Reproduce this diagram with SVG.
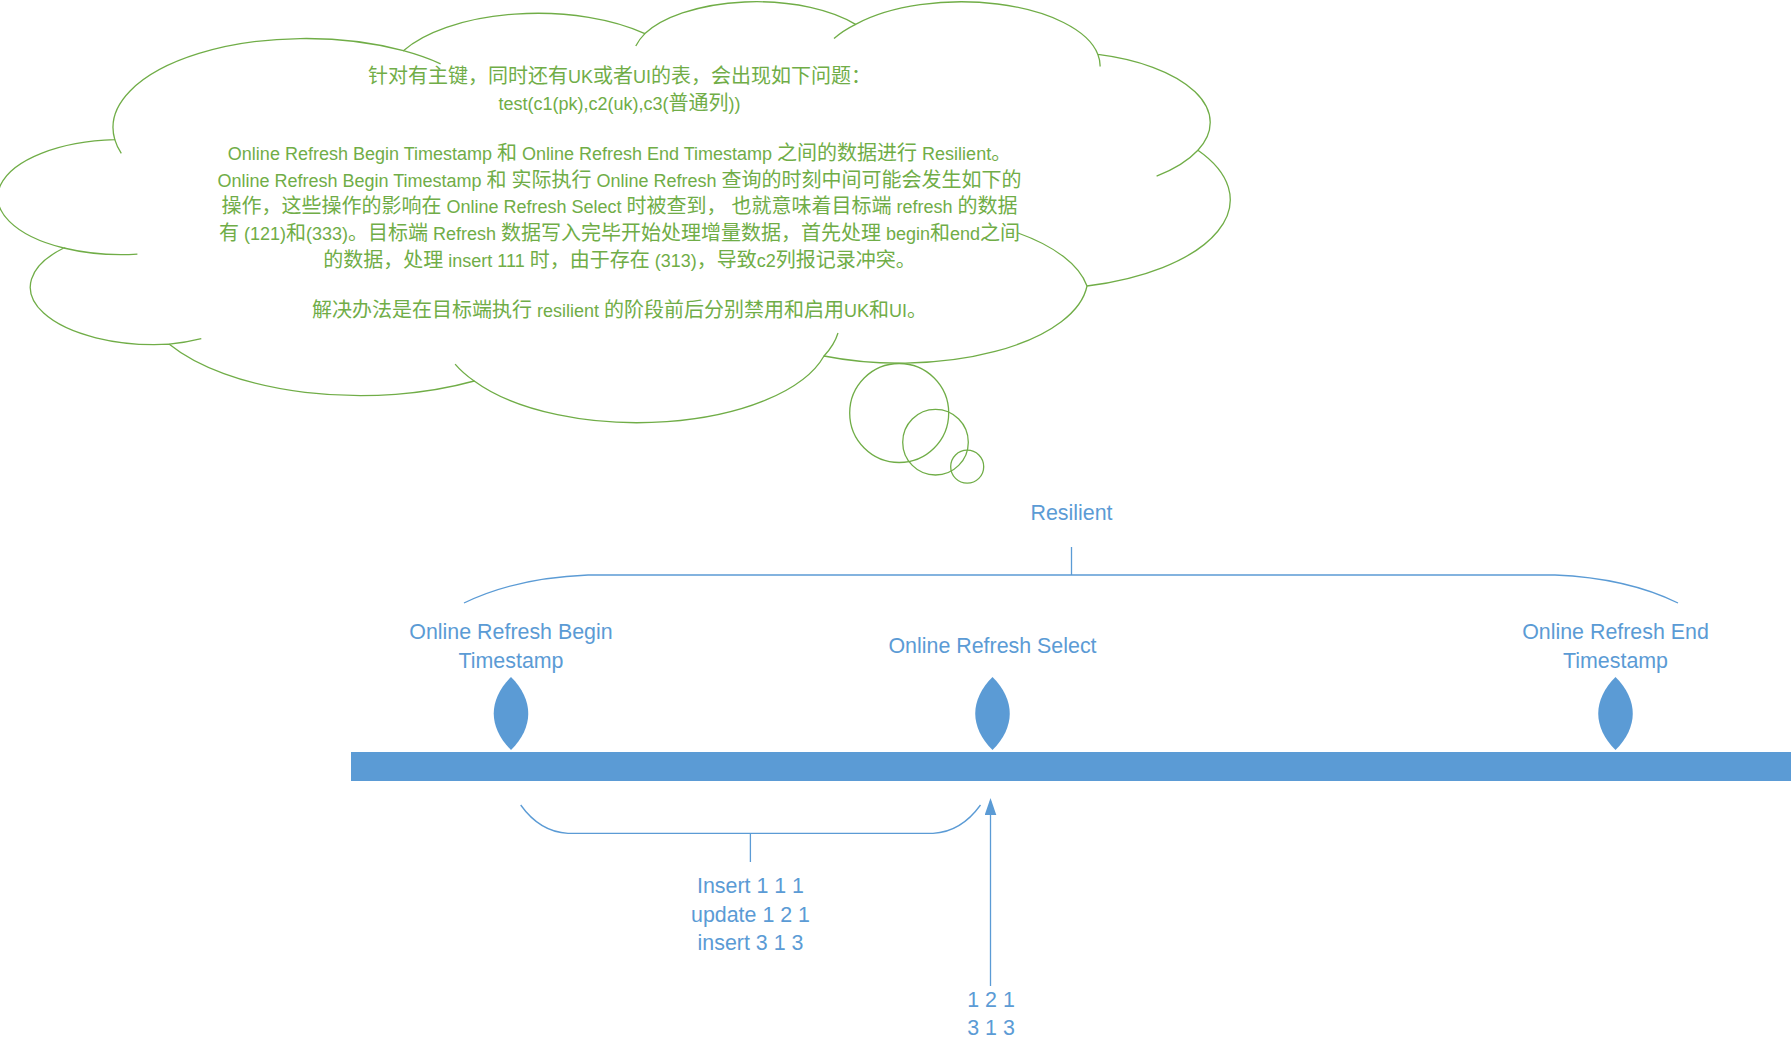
<svg xmlns="http://www.w3.org/2000/svg" width="1791" height="1055" viewBox="0 0 1791 1055">
  <style>
    .cloud { fill: #FFFFFF; stroke: #70AD47; stroke-width: 1.3; }
    .stub { fill: none; stroke: #70AD47; stroke-width: 1.3; }
    .bubble { fill: none; stroke: #70AD47; stroke-width: 1.3; }
    .note { font-family: "Noto Sans CJK SC", "Liberation Sans", sans-serif; font-size: 20px; fill: #70AD47; text-anchor: middle; }
    .la { font-family: "Liberation Sans", "Noto Sans CJK SC", sans-serif; font-size: 18px; }
    .lbl { font-family: "Liberation Sans", "Noto Sans CJK SC", sans-serif; font-size: 21.4px; fill: #5B9BD5; text-anchor: middle; }
    .mark { fill: #5B9BD5; stroke: none; }
    .conn { fill: none; stroke: #5B9BD5; stroke-width: 1.3; }
  </style>
  <defs>
    <marker id="arrow" viewBox="-15 -6 18 12" refX="0" refY="0" markerWidth="18" markerHeight="12" markerUnits="userSpaceOnUse" orient="auto">
      <path d="M3,0 L-14,-5.8 L-14,5.8 Z" fill="#5B9BD5"/>
    </marker>
  </defs>
  <rect x="0" y="0" width="1791" height="1055" fill="#FFFFFF"/>

  <g id="cloud-note">
    <path class="cloud" d="M 114.8 139.6
      A 192.9 89.1 0 0 1 403.4 50.7
      A 152.3 70.5 0 0 1 644.9 33.6
      A 124.7 57.6 0 0 1 855.6 24.4
      A 138.7 63.9 0 0 1 1097.9 54.4
      A 152.3 70.5 0 0 1 1197.9 150.2
      A 193.5 89.4 0 0 1 1087 286
      A 188 85 0 0 1 824 356
      A 192.9 89.3 0 0 1 474.2 381
      A 220.5 102.2 0 0 1 169.3 344.2
      A 124.5 57.4 0 0 1 63.8 248
      A 124.1 57.6 0 0 1 114.8 139.6 Z"/>
    <path class="stub" d="M 137.4 254.1 A 124.1 57.6 0 0 1 63.8 248
      M 201.3 338.6 A 124.5 57.4 0 0 1 169.3 344.2
      M 474.2 381 A 192.9 89.3 0 0 1 455.1 364.1
      M 838 333 A 192.9 89.3 0 0 1 824 356
      M 1018 233 A 188 85 0 0 1 1087 286
      M 1197.9 150.2 A 152.3 70.5 0 0 1 1156.6 176.1
      M 1097.9 54.4 A 138.7 63.9 0 0 1 1100.1 66.6
      M 834 38.6 A 138.7 63.9 0 0 1 855.6 24.4
      M 635.8 46.1 A 124.7 57.6 0 0 1 644.9 33.6
      M 403.4 50.7 A 192.9 89.1 0 0 1 440.6 63.8
      M 121.3 153.4 A 192.9 89.1 0 0 1 114.8 139.6"/>
    <circle class="bubble" cx="899.2" cy="413" r="49.5"/>
    <circle class="bubble" cx="935.5" cy="442.2" r="32.8"/>
    <circle class="bubble" cx="967.2" cy="466.7" r="16.5"/>
    <text class="note" x="619.5" y="83.3">针对有主键，同时还有<tspan class="la">UK</tspan>或者<tspan class="la">UI</tspan>的表，会出现如下问题：</text>
    <text class="note" x="619.5" y="110"><tspan class="la">test(c1(pk),c2(uk),c3(</tspan>普通列<tspan class="la">))</tspan></text>
    <text class="note" x="619.5" y="160"><tspan class="la">Online Refresh Begin Timestamp </tspan>和<tspan class="la"> Online Refresh End Timestamp </tspan>之间的数据进行<tspan class="la"> Resilient</tspan>。</text>
    <text class="note" x="619.5" y="186.7"><tspan class="la">Online Refresh Begin Timestamp </tspan>和<tspan class="la"> </tspan>实际执行<tspan class="la"> Online Refresh </tspan>查询的时刻中间可能会发生如下的</text>
    <text class="note" x="619.5" y="213.3">操作，这些操作的影响在<tspan class="la"> Online Refresh Select </tspan>时被查到，<tspan class="la"> </tspan>也就意味着目标端<tspan class="la"> refresh </tspan>的数据</text>
    <text class="note" x="619.5" y="240">有<tspan class="la"> (121)</tspan>和<tspan class="la">(333)</tspan>。目标端<tspan class="la"> Refresh </tspan>数据写入完毕开始处理增量数据，首先处理<tspan class="la"> begin</tspan>和<tspan class="la">end</tspan>之间</text>
    <text class="note" x="619.5" y="266.7">的数据，处理<tspan class="la"> insert 111 </tspan>时，由于存在<tspan class="la"> (313)</tspan>，导致<tspan class="la">c2</tspan>列报记录冲突。</text>
    <text class="note" x="619.5" y="316.7">解决办法是在目标端执行<tspan class="la"> resilient </tspan>的阶段前后分别禁用和启用<tspan class="la">UK</tspan>和<tspan class="la">UI</tspan>。</text>
  </g>

  <g id="resilient-label">
    <text class="lbl" x="1071.5" y="520">Resilient</text>
  </g>

  <g id="timeline">
    <rect x="351" y="752" width="1440" height="29" fill="#5B9BD5"/>
  </g>

  <g id="begin-timestamp">
    <path class="mark" d="M 511 677 C 534 700, 534 727, 511 750 C 488 727, 488 700, 511 677 Z"/>
    <text class="lbl" x="511" y="639">Online Refresh Begin</text>
    <text class="lbl" x="511" y="668">Timestamp</text>
  </g>

  <g id="select">
    <path class="mark" d="M 992.5 677 C 1015.5 700, 1015.5 727, 992.5 750 C 969.5 727, 969.5 700, 992.5 677 Z"/>
    <text class="lbl" x="992.5" y="653">Online Refresh Select</text>
  </g>

  <g id="end-timestamp">
    <path class="mark" d="M 1615.5 677 C 1638.5 700, 1638.5 727, 1615.5 750 C 1592.5 727, 1592.5 700, 1615.5 677 Z"/>
    <text class="lbl" x="1615.5" y="639">Online Refresh End</text>
    <text class="lbl" x="1615.5" y="668">Timestamp</text>
  </g>

  <g id="operations">
    <text class="lbl" x="750.5" y="892.7">Insert 1 1 1</text>
    <text class="lbl" x="750.5" y="921.5">update 1 2 1</text>
    <text class="lbl" x="750.5" y="949.5">insert 3 1 3</text>
  </g>

  <g id="select-result">
    <text class="lbl" x="991" y="1006.5">1 2 1</text>
    <text class="lbl" x="991" y="1035">3 1 3</text>
  </g>

  <g id="connectors">
    <path class="conn" d="M 464 603 Q 515 578 588 575 L 1555 575 Q 1627 578 1678 603"/>
    <path class="conn" d="M 1071.5 547 L 1071.5 575"/>
    <path class="conn" d="M 520.7 805 Q 540 832 568 833.3 L 933 833.3 Q 961 832 980.5 805"/>
    <path class="conn" d="M 750.4 833.3 L 750.4 862"/>
    <path class="conn" d="M 990.5 986 L 990.5 801" marker-end="url(#arrow)"/>
  </g>
</svg>
